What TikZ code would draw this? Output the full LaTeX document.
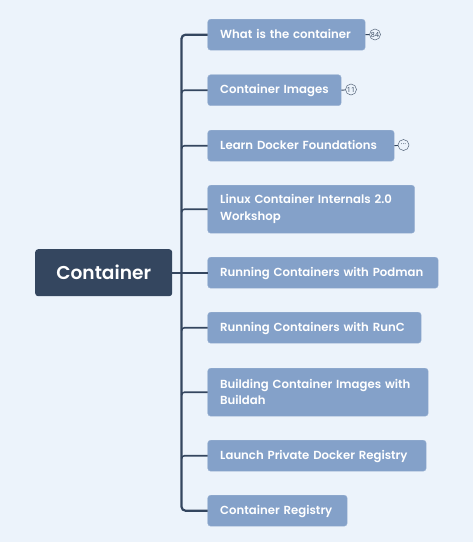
\documentclass[tikz,border=0pt]{standalone}
\usepackage{fontspec}
\setmainfont{Poppins}[BoldFont={Poppins SemiBold}]
\newfontfamily\badgefont{Open Sans}
\definecolor{bgc}{HTML}{ECF3FB}
\definecolor{rootc}{HTML}{34465F}
\definecolor{boxc}{HTML}{84A1C9}
\definecolor{linec}{HTML}{34465F}
\begin{document}
\begin{tikzpicture}[x=1pt,y=-1pt,
  rootbox/.style={fill=rootc,rounded corners=3pt,inner sep=0pt,text=white,font=\fontsize{18.6}{24}\selectfont\bfseries,minimum width=137pt,minimum height=47pt,anchor=north west},
  basebox/.style={fill=boxc,draw=boxc!80!white,line width=.4pt,rounded corners=3pt,inner sep=0pt,text=white,font=\fontsize{11.7}{16.5}\selectfont\bfseries,align=left,anchor=north west},
  topicbox/.style={basebox,text width=#1-25pt,text depth=2pt,minimum width=#1,minimum height=31pt},
  tallbox/.style={basebox,text width=#1-25pt,minimum width=#1,minimum height=48pt},
  link/.style={draw=linec,line width=1.6pt},
  trunk/.style={draw=linec,line width=2.2pt,rounded corners=4pt},
  badge/.style={circle,draw=linec!85!white,line width=.5pt,fill=bgc,minimum size=11pt,inner sep=0pt,text=linec,font=\badgefont\fontsize{7}{7}\selectfont},
  stub/.style={draw=linec,line width=.9pt}]
\useasboundingbox[fill=bgc] (0,0) rectangle (473,542);
\node[rootbox] (root) at (35,249) {Container};
\node[topicbox=157.5pt] (t1) at (207.5,19) {What is the container};
\node[topicbox=133.5pt] (t2) at (207.5,74.5) {Container Images};
\node[topicbox=186.5pt] (t3) at (207.5,130) {Learn Docker Foundations};
\node[tallbox=207pt] (t4) at (207.5,185) {Linux Container Internals 2.0 Workshop};
\node[topicbox=230.5pt] (t5) at (207.5,257) {Running Containers with Podman};
\node[topicbox=213.5pt] (t6) at (207.5,312) {Running Containers with RunC};
\node[tallbox=220.5pt] (t7) at (207.5,368) {Building Container Images with Buildah};
\node[topicbox=218.5pt] (t8) at (207.5,440) {Launch Private Docker Registry};
\node[topicbox=139.5pt] (t9) at (207.5,495) {Container Registry};
\node[badge] (b1) at (375,34.5) {84};
\node[badge] (b2) at (351,89.5) {11};
\node[badge] (b3) at (403.5,145) {\raisebox{1.5pt}{...}};
\coordinate (tx) at (181.5,0);
\draw[link] (root.east) -- (t5.west);
\draw[trunk] (t1.west) -- (tx |- t1.west) -- (tx |- t9.west) -- (t9.west);
\foreach \n in {t2,t3,t4,t6,t7,t8}{
  \draw[link,rounded corners=3pt] (tx |- 0,0 |- \n.west) ++(0,3) -- ++(0,-3) -- (\n.west);
}
\draw[stub] (t1.east) -- (b1);
\draw[stub] (t2.east) -- (b2);
\draw[stub] (t3.east) -- (b3);
\end{tikzpicture}
\end{document}
